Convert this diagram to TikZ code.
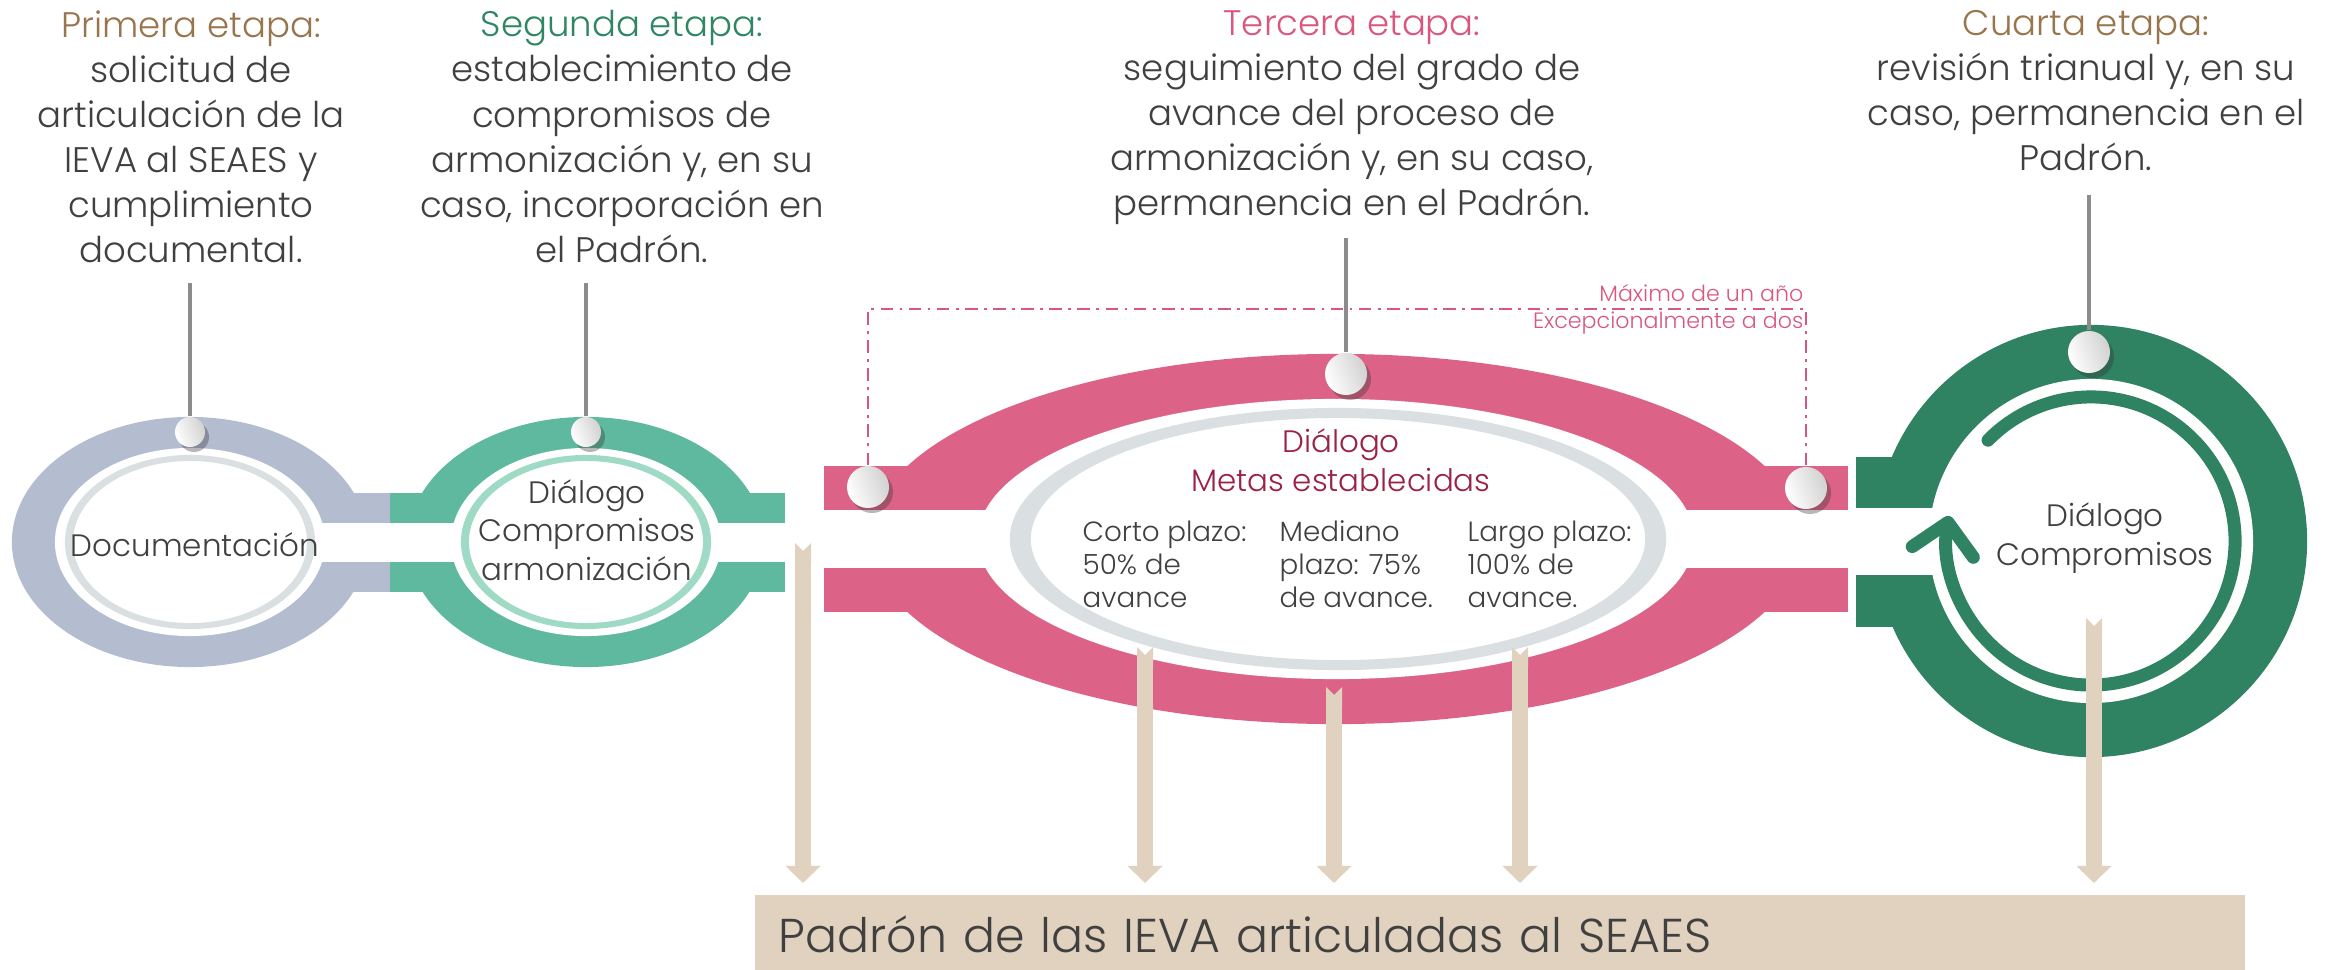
\documentclass[tikz,border=0pt]{standalone}
\usepackage{fontspec}
\setmainfont{Poppins}[UprightFont={* Light}]
\usetikzlibrary{arrows.meta,shadows}

\definecolor{docgray}{RGB}{180,189,208}
\definecolor{compgreen}{RGB}{95,185,158}
\definecolor{mint}{RGB}{158,218,196}
\definecolor{metapink}{RGB}{220,99,135}
\definecolor{revgreen}{RGB}{47,130,98}
\definecolor{ringgray}{RGB}{218,223,225}
\definecolor{padronbeige}{RGB}{224,210,190}
\definecolor{stemgray}{RGB}{140,140,140}
\definecolor{titlebrown}{RGB}{152,117,76}
\definecolor{titlegreen}{RGB}{46,134,100}
\definecolor{titlepink}{RGB}{217,87,127}
\definecolor{guinda}{RGB}{155,34,71}
\definecolor{bodytext}{RGB}{64,64,64}

\tikzset{
  stage/.style={anchor=north, align=center, inner sep=0pt, text=bodytext,
    font=\fontsize{10.1}{12.8}\selectfont},
  inring/.style={align=center, inner sep=0pt, text=bodytext,
    font=\fontsize{8.8}{11}\selectfont},
  goal/.style={anchor=north west, align=left, inner sep=0pt, text=bodytext,
    font=\fontsize{7.9}{9.4}\selectfont},
  bead/.style={circle, inner sep=0pt, minimum size=#1,
    left color=white, right color=black!18, shading angle=110,
    drop shadow={shadow xshift=0.04cm, shadow yshift=-0.05cm, opacity=0.35, fill=black!80}},
  stem/.style={stemgray, line width=0.9pt},
  feed/.style={padronbeige, line width=0.16cm, shorten >=0.11cm,
    {Triangle Cap[reversed]}-{Triangle[width=0.34cm,length=0.17cm]}},
  span/.style={titlepink, line width=0.7pt,
    dash pattern=on 3.6pt off 1.8pt on 0.8pt off 1.8pt},
  spanlabel/.style={inner sep=0pt, text=titlepink, font=\fontsize{6.3}{7.5}\selectfont},
  padronbox/.style={anchor=north west, fill=padronbeige, minimum width=14.89cm,
    minimum height=0.80cm, text width=14.41cm, align=left, inner xsep=0.24cm,
    inner ysep=0pt, text=bodytext, font=\fontsize{13.5}{15}\selectfont},
}

\begin{document}
\begin{tikzpicture}[x=0.01cm, y=-0.01cm]
  \useasboundingbox (0,0) rectangle (2336,970);

  % ring centres
  \coordinate (ca) at (190,542);
  \coordinate (cb) at (586,542);
  \coordinate (cc) at (1336,539);
  \coordinate (cd) at (2091,541);

  % bars joining the rings
  \fill[docgray] (340,493) rectangle (390,523);
  \fill[docgray] (340,562) rectangle (390,592);
  \fill[compgreen] (390,493) rectangle (785,523);
  \fill[compgreen] (390,562) rectangle (785,592);
  \fill[metapink] (824,466) rectangle (1848,510);
  \fill[metapink] (824,568) rectangle (1848,612);
  \fill[revgreen] (1856,457) rectangle (1960,508);
  \fill[revgreen] (1856,575) rectangle (1960,627);

  % outer rings
  \fill[docgray] (ca) ellipse [x radius=1.78cm, y radius=1.25cm];
  \fill[compgreen] (cb) ellipse [x radius=1.78cm, y radius=1.25cm];
  \fill[metapink] (cc) ellipse [x radius=4.66cm, y radius=1.85cm];
  \fill[revgreen] (cd) circle [radius=2.16cm];

  % white channel through the rings
  \fill[white] (190,523) rectangle (786,562);
  \fill[white] (820,510) rectangle (1852,568);
  \fill[white] (1852,508) rectangle (2091,575);

  % inner discs
  \fill[white] (ca) ellipse [x radius=1.35cm, y radius=0.94cm];
  \fill[white] (cb) ellipse [x radius=1.35cm, y radius=0.94cm];
  \fill[white] (cc) ellipse [x radius=3.58cm, y radius=1.40cm];
  \fill[white] (cd) circle [radius=1.62cm];

  % thin inner rings
  \fill[ringgray, even odd rule] (ca) ellipse [x radius=1.25cm, y radius=0.87cm]
    (ca) ellipse [x radius=1.17cm, y radius=0.81cm];
  \fill[mint, even odd rule] (cb) ellipse [x radius=1.25cm, y radius=0.87cm]
    (cb) ellipse [x radius=1.17cm, y radius=0.81cm];
  \fill[ringgray, even odd rule] (1338,539) ellipse [x radius=3.28cm, y radius=1.31cm]
    (1338,539) ellipse [x radius=3.07cm, y radius=1.21cm];

  % turning arrow of the fourth stage
  \draw[revgreen, line width=0.13cm, line cap=round,
    -{Straight Barb[length=0.3cm, width=0.62cm, round]}]
    (cd) ++(135.6:1.44cm) arc [start angle=135.6, end angle=-190, radius=1.44cm];

  % texts inside the rings
  \node[inring] (docu) at (195,545) {Documentación};
  \node[inring] (compb) at (587,530) {Diálogo\\Compromisos\\armonización};
  \node[inring, text=guinda] (metas) at (1341,460) {Diálogo\\Metas establecidas};
  \node[goal] (corto) at (1082,520) {Corto plazo:\\50\% de\\avance};
  \node[goal] (mediano) at (1279,520) {Mediano\\plazo: 75\%\\de avance.};
  \node[goal] (largo) at (1467,520) {Largo plazo:\\100\% de\\avance.};
  \node[inring] (compd) at (2105,538) {Diálogo\\Compromisos};

  % stage descriptions
  \node[stage] (primera) at (191,10) {\textcolor{titlebrown}{Primera etapa:}\\solicitud de\\articulación de la\\IEVA al SEAES y\\cumplimiento\\documental.};
  \node[stage] (segunda) at (622,10) {\textcolor{titlegreen}{Segunda etapa:}\\establecimiento de\\compromisos de\\armonización y, en su\\caso, incorporación en\\el Padrón.};
  \node[stage] (tercera) at (1352,10) {\textcolor{titlepink}{Tercera etapa:}\\seguimiento del grado de\\avance del proceso de\\armonización y, en su caso,\\permanencia en el Padrón.};
  \node[stage] (cuarta) at (2086,10) {\textcolor{titlebrown}{Cuarta etapa:}\\revisión trianual y, en su\\caso, permanencia en el\\Padrón.};

  % padron
  \node[padronbox] (padron) at (754,894) {Padrón de las IEVA articuladas al SEAES};

  % feeds into the padron
  \coordinate (f1) at (803,543);
  \coordinate (f2) at (1145,647);
  \coordinate (f3) at (1334,687);
  \coordinate (f4) at (1520,647);
  \coordinate (f5) at (2094,618);
  \foreach \f in {f1,f2,f3,f4,f5}
    \draw[feed] (\f) -- (\f |- padron.north);

  % stems and beads
  \coordinate (s1) at (190,283);
  \coordinate (s2) at (586,283);
  \coordinate (s3) at (1346,238);
  \coordinate (s4) at (2089,195);
  \node[bead=0.30cm] (b1) at (190,432) {};
  \node[bead=0.30cm] (b2) at (586,432) {};
  \node[bead=0.42cm] (b3) at (1346,374) {};
  \node[bead=0.42cm] (b4) at (2089,352) {};
  \node[bead=0.42cm] (bl) at (868,487) {};
  \node[bead=0.42cm] (br) at (1806,488) {};
  \draw[stem] (s1) -- (b1);
  \draw[stem] (s2) -- (b2);
  \draw[stem] (s3) -- (b3);
  \draw[stem] (s4) -- (b4);

  % time span of the third stage
  \coordinate (spantop) at (1336,309);
  \draw[span] (bl) |- (spantop) -| (br);
  \node[spanlabel, anchor=south east] (maximo) at (1804,302) {Máximo de un año};
  \node[spanlabel, anchor=north east] (excep) at (1804,311) {Excepcionalmente a dos};
\end{tikzpicture}
\end{document}
